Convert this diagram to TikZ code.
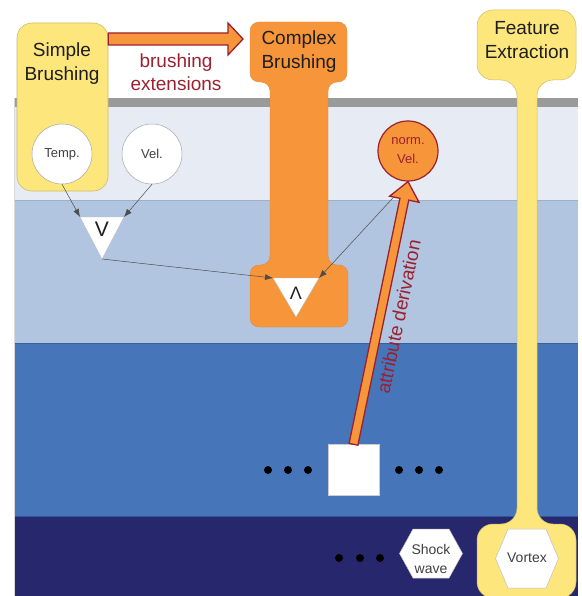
\documentclass[tikz,border=0pt]{standalone}
\usepackage{fontspec}
\setmainfont{Liberation Sans}
\usetikzlibrary{arrows.meta,calc,shapes.geometric}
\definecolor{ylw}{HTML}{FDE67C}
\definecolor{ylwb}{HTML}{CDBB6A}
\definecolor{org}{HTML}{F7953A}
\definecolor{orgb}{HTML}{E08A3A}
\definecolor{dred}{HTML}{9B2030}
\definecolor{lightband}{HTML}{E6EBF4}
\definecolor{midband}{HTML}{B1C5E0}
\definecolor{blueband}{HTML}{4676B9}
\definecolor{navyband}{HTML}{27276E}
\definecolor{graybar}{HTML}{9A9A9A}
\definecolor{txt}{HTML}{1E1E1E}
\begin{document}
\begin{tikzpicture}[x=1pt,y=-1pt,
  title/.style={align=center, font=\fontsize{19}{24}\selectfont, text=txt, inner sep=0pt},
  redlabel/.style={align=center, font=\fontsize{19}{23}\selectfont, text=dred, inner sep=0pt},
  smalltxt/.style={align=center, font=\fontsize{13}{19}\selectfont, text=txt!85, inner sep=0pt},
  attr/.style={circle, draw=gray!70, line width=0.5pt, fill=white, minimum size=60pt, inner sep=0pt, font=\fontsize{13}{19}\selectfont, text=txt!85, align=center},
  normattr/.style={attr, fill=org, draw=dred, line width=1.2pt, text=dred},
  blockarrow/.style={fill=org, draw=dred, line width=1.3pt, line join=miter},
  thinarrow/.style={draw=black!70, line width=0.5pt, -{Latex[length=8pt,width=6pt]}},
  tri/.style={fill=white, draw=gray!50, line width=0.4pt},
  dot/.style={circle, fill=black, inner sep=0pt, minimum size=8pt},
  hexa/.style={fill=white, draw=gray!50, line width=0.5pt},
  opbig/.style={font=\fontsize{21}{21}\selectfont, inner sep=0pt, text=txt},
]
\useasboundingbox (0,0) rectangle (581,596);
% bands
\fill[graybar] (14,98) rectangle (578,107);
\fill[lightband] (14,107) rectangle (578,200);
\fill[midband] (14,200) rectangle (578,343);
\fill[blueband] (14,343) rectangle (578,516);
\fill[navyband] (14,516) rectangle (578,596);
\draw[line width=0.8pt, color={rgb,255:red,160;green,175;blue,200}] (14,200) -- (578,200);
\draw[line width=1pt, color={rgb,255:red,60;green,95;blue,155}] (14,343.5) -- (578,343.5);
\draw[line width=1pt, color={rgb,255:red,55;green,85;blue,150}] (14,516) -- (578,516);
\draw[line width=0.6pt, gray!30] (14,98) -- (14,596);

% Simple Brushing box
\node[draw=ylwb, fill=ylw, rounded corners=15pt, minimum width=91pt, minimum height=168pt, inner sep=0pt, line width=0.6pt] (sb) at (62.5,107) {};

% brushing extensions arrow
\coordinate (beT) at (243,39);
\coordinate (beS) at (sb.east |- beT);
\draw[blockarrow] ($(beS)+(0,-6)$) -- ($(beT)+(-15,-6)$) -- ($(beT)+(-15,-16)$) -- (beT)
  -- ($(beT)+(-15,16)$) -- ($(beT)+(-15,6)$) -- ($(beS)+(0,6)$) -- cycle;
\node[redlabel] (bel) at (176,72.5) {brushing\\extensions};

% Complex Brushing shape
\draw[fill=org, draw=orgb, line width=0.4pt, rounded corners=9pt]
  (250,22) -- (347,22) -- (347,82) -- (328,82) -- (328,265) -- (348,265) -- (348,327)
  -- (250,327) -- (250,265) -- (270,265) -- (270,82) -- (250,82) -- cycle;

% Feature Extraction shape
\draw[fill=ylw, draw=ylwb, line width=0.5pt, rounded corners=16pt]
  (477,10) -- (576,10) -- (576,80) -- (537,80) -- (537,524) -- (576,524) -- (576,598)
  -- (477,598) -- (477,524) -- (517,524) -- (517,80) -- (477,80) -- cycle;

% attribute circles
\node[attr] (tc) at (62,154) {Temp.};
\node[attr] (vc) at (152,154) {Vel.};

% OR triangle
\coordinate (orTL) at (80,217);
\coordinate (orTR) at (124,217);
\coordinate (orB) at (102,259);
\draw[tri] (orTL) -- (orTR) -- (orB) -- cycle;
\node[opbig] (ort) at (102,229) {V};

% AND triangle
\coordinate (andTL) at (273,278);
\coordinate (andTR) at (319,278);
\coordinate (andB) at (296,317);
\draw[tri] (andTL) -- (andTR) -- (andB) -- cycle;
\node[opbig, font=\fontsize{18}{18}\selectfont] (andt) at (296,293) {Λ};

% norm. Vel.
\node[normattr] (nv) at (408,151) {norm.\\Vel.};

% thin arrows
\draw[thinarrow] (tc.south) -- (orTL);
\draw[thinarrow] (vc.south) -- (orTR);
\draw[thinarrow] (orB) -- (andTL);
\draw[thinarrow] (nv.south) -- (andTR);

% square
\node[fill=white, draw=gray!40, line width=0.4pt, minimum size=51pt, inner sep=0pt] (sq) at (353.5,470) {};

% attribute derivation arrow
\coordinate (adB) at (sq.north);
\coordinate (adT) at (nv.south);
\coordinate (adH) at ($(adT)!18pt!(adB)$);
\draw[blockarrow] ($(adB)!4.5pt!-90:(adT)$) -- ($(adH)!4.5pt!90:(adB)$) -- ($(adH)!15pt!90:(adB)$)
  -- (adT) -- ($(adH)!15pt!-90:(adB)$) -- ($(adH)!4.5pt!-90:(adB)$) -- ($(adB)!4.5pt!90:(adT)$) -- cycle;
\path (adB) -- (adT) node[midway, sloped, below=11pt, redlabel] (adl) {attribute derivation};

% dots
\node[dot] (d1) at (268,470) {};
\node[dot] (d2) at (288,470) {};
\node[dot] (d3) at (308,470) {};
\node[dot] (d4) at (399,470) {};
\node[dot] (d5) at (419,470) {};
\node[dot] (d6) at (439,470) {};
\node[dot] (d7) at (339,558) {};
\node[dot] (d8) at (360,558) {};
\node[dot] (d9) at (380,558) {};

% hexagons
\draw[hexa, shift={(431,553.5)}] (-31.5,0) -- (-18,-24.5) -- (18,-24.5) -- (31.5,0) -- (18,24.5) -- (-18,24.5) -- cycle;
\node[smalltxt, font=\fontsize{14}{19}\selectfont] (sw) at (431,558.5) {Shock\\wave};
\draw[hexa, shift={(527,558.5)}] (-31.5,0) -- (-19,-29.5) -- (19,-29.5) -- (31.5,0) -- (19,29.5) -- (-19,29.5) -- cycle;
\node[smalltxt, font=\fontsize{14}{19}\selectfont] (vx) at (527,558) {Vortex};

% titles
\node[title] (sbt) at (62,64) {Simple\\Brushing};
\node[title] (cbt) at (299,51.5) {Complex\\Brushing};
\node[title] (fet) at (527,40.5) {Feature\\Extraction};
\end{tikzpicture}
\end{document}
